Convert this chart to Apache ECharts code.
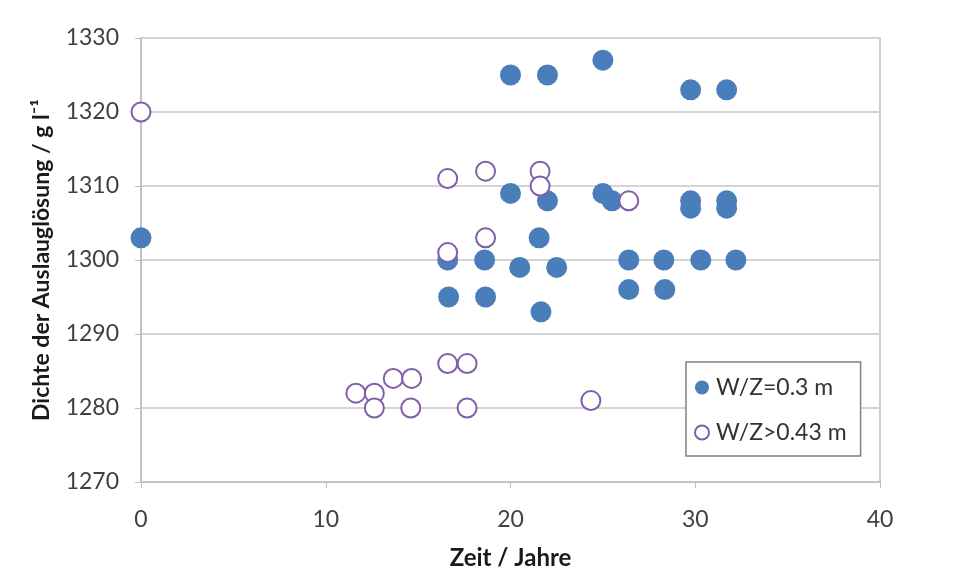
<!DOCTYPE html>
<html>
<head>
<meta charset="utf-8">
<script src="https://cdn.jsdelivr.net/npm/echarts@6/dist/echarts.min.js"></script>
<style>
  html, body { margin: 0; padding: 0; background: #fff; }
  #chart { width: 956px; height: 576px; }
</style>
</head>
<body>
<div id="chart"></div>
<script>
// W/Z=0.3 m (filled)
const smallX = [0, 20, 22, 25, 29.75, 31.7, 20, 22, 25, 25.5, 29.75, 29.75, 31.7, 31.7,
                21.55, 16.6, 18.6, 20.5, 22.5, 26.4, 28.3, 30.3, 32.2, 16.65, 18.65, 21.65, 26.4, 28.35]
const smallY = [1303, 1325, 1325, 1327, 1323, 1323, 1309, 1308, 1309, 1308, 1308, 1307, 1308, 1307,
                1303, 1300, 1300, 1299, 1299, 1300, 1300, 1300, 1300, 1295, 1295, 1293, 1296, 1296]
// W/Z>0.43 m (hollow)
const largeX = [0, 16.6, 18.65, 21.6, 21.6, 26.4, 18.65, 16.6,
                11.63, 12.63, 12.63, 13.65, 14.65, 14.6, 16.6, 17.65, 17.65, 24.35]
const largeY = [1320, 1311, 1312, 1312, 1310, 1308, 1303, 1301,
                1282, 1282, 1280, 1284, 1284, 1280, 1286, 1286, 1280, 1281]
const xTicks = [0, 40, 10]      // min, max, interval
const yTicks = [1270, 1330, 10]

const pairs = (xs, ys) => xs.map((x, i) => [x, ys[i]])
const font = 'Lato, "Open Sans", sans-serif'

let myChart = echarts.init(document.getElementById('chart'))
let option = {
    animation: false,
    textStyle: { fontFamily: font },
    grid: {
        left: 141,
        right: 76,
        top: 38,
        bottom: 94,
        show: true,
        borderColor: '#bfbfbf',
        borderWidth: 1.5
    },
    legend: {
        orient: 'vertical',
        left: 686,
        top: 362,
        padding: [14, 14, 12, 8],
        itemGap: 22,
        itemWidth: 14,
        itemHeight: 14,
        borderColor: '#808080',
        borderWidth: 1.5,
        backgroundColor: '#fff',
        textStyle: { fontSize: 23, color: '#333', fontFamily: font, padding: [0, 0, 0, 2] },
        data: [
            { name: 'W/Z=0.3 m', icon: 'circle' },
            { name: 'W/Z>0.43 m', icon: 'circle' }
        ]
    },
    xAxis: {
        type: 'value',
        min: xTicks[0],
        max: xTicks[1],
        interval: xTicks[2],
        name: 'Zeit / Jahre',
        nameLocation: 'middle',
        nameGap: 64,
        nameTextStyle: { fontSize: 24, fontWeight: 'bold', color: '#1a1a1a' },
        axisLine: { lineStyle: { color: '#bfbfbf', width: 1.5 } },
        axisTick: { show: true, length: 6, lineStyle: { color: '#bfbfbf' } },
        axisLabel: { fontSize: 23, color: '#404040', margin: 26 },
        splitLine: { show: false }
    },
    yAxis: {
        type: 'value',
        min: yTicks[0],
        max: yTicks[1],
        interval: yTicks[2],
        name: 'Dichte der Auslauglösung / g l\u207B\u00B9',
        nameLocation: 'middle',
        nameGap: 88,
        nameTextStyle: { fontSize: 23, fontWeight: 'bold', color: '#1a1a1a' },
        axisLine: { show: true, lineStyle: { color: '#bfbfbf', width: 1.5 } },
        axisTick: { show: true, length: 6, lineStyle: { color: '#bfbfbf' } },
        axisLabel: { fontSize: 23, color: '#404040', margin: 22, formatter: v => String(v) },
        splitLine: { lineStyle: { color: '#d4d4d4', width: 2 } }
    },
    series: [
        {
            name: 'W/Z=0.3 m',
            type: 'scatter',
            symbol: 'circle',
            symbolSize: 21,
            itemStyle: { color: '#4a7ebb', opacity: 1 },
            data: pairs(smallX, smallY)
        },
        {
            name: 'W/Z>0.43 m',
            type: 'scatter',
            symbol: 'circle',
            symbolSize: 19,
            itemStyle: { color: '#fff', borderColor: '#7f5fa8', borderWidth: 2, opacity: 1 },
            data: pairs(largeX, largeY)
        }
    ]
}
myChart.setOption(option)
</script>
</body>
</html>
